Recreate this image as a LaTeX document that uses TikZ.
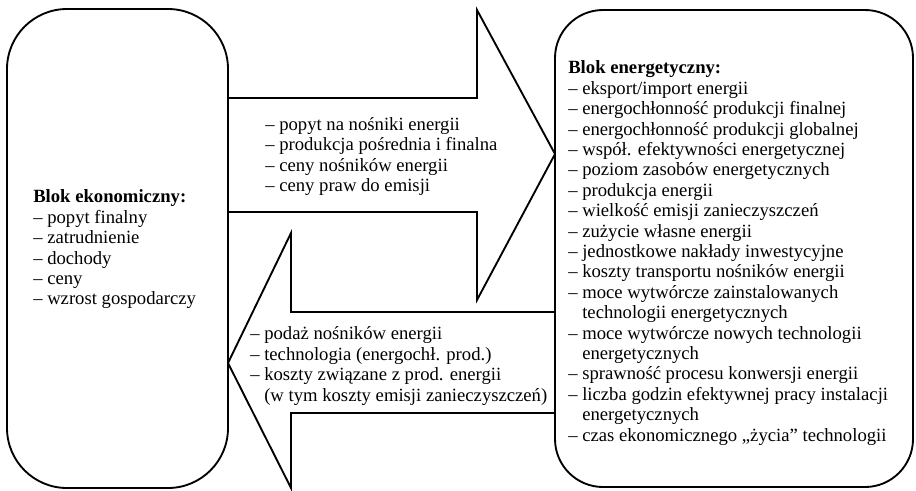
\documentclass[tikz,border=0pt]{standalone}
\usepackage{fontspec}
\setmainfont{Liberation Serif}
\begin{document}
\begin{tikzpicture}[x=0.75pt,y=0.75pt,yscale=-1,xscale=1,
  blok/.style={draw, line width=1.4pt, inner sep=0pt, outer sep=0pt},
  strzalka/.style={draw, line width=1.4pt},
  opis/.style={anchor=west, align=left, inner sep=0pt, font=\fontsize{14}{15.3}\selectfont}]
\useasboundingbox (0,0) rectangle (916,490);

%Shape: Rounded Rect (blok ekonomiczny)
\node[blok, rounded corners=45pt, minimum width=165.75pt, minimum height=359.25pt] (ekon) at (117.5,248.5) {};
%Shape: Rounded Rect (blok energetyczny)
\node[blok, rounded corners=36pt, minimum width=268.5pt, minimum height=357.75pt] (ener) at (734,248.5) {};

%Shape: Right Arrow
\draw[strzalka] (ekon.east |- 0,98) -- (477,98) -- (477,10) -- (ener.west |- 0,154) -- (477,300) -- (477,212) -- (ekon.east |- 0,212) ;
%Shape: Left Arrow
\draw[strzalka] (ener.west |- 0,312) -- (291,312) -- (291,233) -- (ekon.east |- 0,363) -- (291,488) -- (291,413) -- (ener.west |- 0,413) ;

% Text Node
\node[opis] (tekon) at (33,249.5) {\textbf{Blok ekonomiczny:}\\
– popyt finalny\\
– zatrudnienie\\
– dochody\\
– ceny\\
– wzrost gospodarczy};
% Text Node
\node[opis] (tpopyt) at (265,156.5) {– popyt na nośniki energii\\
– produkcja pośrednia i finalna\\
– ceny nośników energii\\
– ceny praw do emisji};
% Text Node
\node[opis] (tpodaz) at (250,366) {– podaż nośników energii\\
– technologia (energochł. prod.)\\
– koszty związane z prod. energii\\
\hphantom{– }(w tym koszty emisji zanieczyszczeń)};
% Text Node
\node[opis] (tener) at (568,253) {\textbf{Blok energetyczny:}\\
– eksport/import energii\\
– energochłonność produkcji finalnej\\
– energochłonność produkcji globalnej\\
– współ. efektywności energetycznej\\
– poziom zasobów energetycznych\\
– produkcja energii\\
– wielkość emisji zanieczyszczeń\\
– zużycie własne energii\\
– jednostkowe nakłady inwestycyjne\\
– koszty transportu nośników energii\\
– moce wytwórcze zainstalowanych\\
\hphantom{– }technologii energetycznych\\
– moce wytwórcze nowych technologii\\
\hphantom{– }energetycznych\\
– sprawność procesu konwersji energii\\
– liczba godzin efektywnej pracy instalacji\\
\hphantom{– }energetycznych\\
– czas ekonomicznego „życia” technologii};

\end{tikzpicture}
\end{document}
